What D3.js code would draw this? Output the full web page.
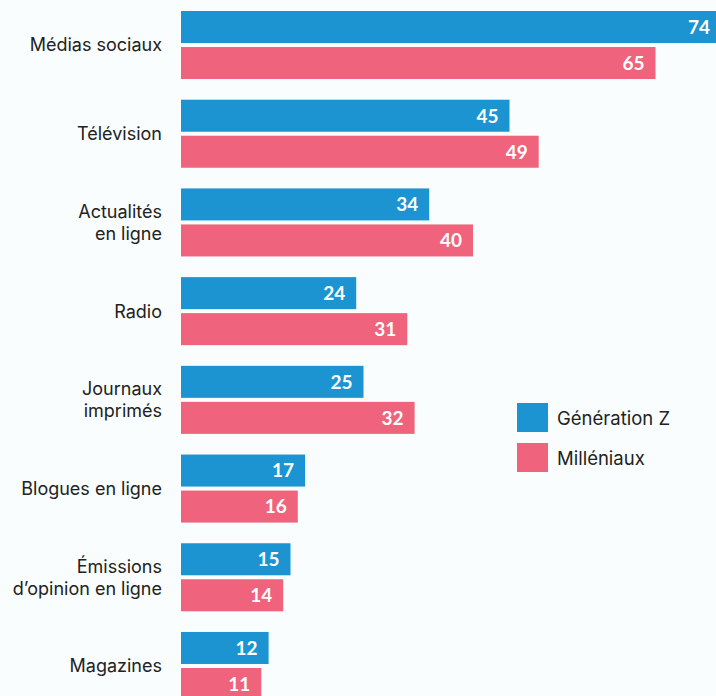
<html>
<head>
  <script src="https://cdn.jsdelivr.net/npm/d3@7/dist/d3.min.js"></script>
</head>
<style>
  body { margin: 0; background: #f9fdfd; overflow: hidden; }
  svg { display: block; font-family: Lato, sans-serif; }
  .lbl { font-family: Inter, sans-serif; }
</style>
<body>
  <svg id="chart"></svg>
  <script type="text/javascript">
    var categories = [
      ['Médias sociaux'],
      ['Télévision'],
      ['Actualités', 'en ligne'],
      ['Radio'],
      ['Journaux', 'imprimés'],
      ['Blogues en ligne'],
      ['Émissions', 'd’opinion en ligne'],
      ['Magazines']
    ];
    var series = ['Génération Z', 'Milléniaux'];
    var genZ = [74, 45, 34, 24, 25, 17, 15, 12];
    var millennials = [65, 49, 40, 31, 32, 16, 14, 11];
    var colors = ['#1c94d2', '#ef647c'];

    var width = 716, height = 696;
    var svg = d3.select('#chart')
      .attr('width', width)
      .attr('height', height);

    var keys = categories.map(function (c) { return c.join(' '); });
    var x = d3.scaleLinear()
      .domain([0, 100])
      .range([181, 911]);
    var y = d3.scaleBand()
      .domain(keys)
      .range([11, 700])
      .paddingInner(0.233)
      .paddingOuter(0);
    var ySub = d3.scaleBand()
      .domain(series)
      .range([0, y.bandwidth()])
      .paddingInner(0.111);

    var rows = keys.map(function (k, i) {
      return { key: k, lines: categories[i], values: [genZ[i], millennials[i]] };
    });

    var group = svg.selectAll('g.group')
      .data(rows)
      .enter()
      .append('g')
      .attr('class', 'group')
      .attr('transform', function (d) { return 'translate(0,' + y(d.key) + ')'; });

    var bar = group.selectAll('g.bar')
      .data(function (d) {
        return d.values.map(function (v, j) { return { s: series[j], v: v, j: j }; });
      })
      .enter()
      .append('g')
      .attr('class', 'bar');

    bar.append('rect')
      .attr('x', x(0))
      .attr('y', function (d) { return ySub(d.s); })
      .attr('width', function (d) { return x(d.v) - x(0); })
      .attr('height', ySub.bandwidth())
      .attr('fill', function (d) { return colors[d.j]; });

    bar.append('text')
      .attr('x', function (d) { return Math.min(x(d.v), width + 5) - 11; })
      .attr('y', function (d) { return ySub(d.s) + ySub.bandwidth() / 2; })
      .attr('dy', '0.36em')
      .attr('text-anchor', 'end')
      .attr('fill', '#fff')
      .attr('font-weight', 'bold')
      .attr('font-size', 19)
      .text(function (d) { return d.v; });

    // category labels
    group.append('text')
      .attr('class', 'lbl')
      .attr('x', 162)
      .attr('y', function (d) { return y.bandwidth() / 2 - (d.lines.length - 1) * 11; })
      .attr('text-anchor', 'end')
      .attr('fill', '#222')
      .attr('font-size', 18)
      .selectAll('tspan')
      .data(function (d) { return d.lines; })
      .enter()
      .append('tspan')
      .attr('x', 162)
      .attr('dy', function (d, i) { return i === 0 ? '0.36em' : 22; })
      .text(function (d) { return d; });

    // legend
    var legend = svg.append('g')
      .attr('transform', 'translate(517, 403)');
    var item = legend.selectAll('g')
      .data(series)
      .enter()
      .append('g')
      .attr('transform', function (d, i) { return 'translate(0,' + i * 40 + ')'; });
    item.append('rect')
      .attr('width', 31)
      .attr('height', 29)
      .attr('fill', function (d, i) { return colors[i]; });
    item.append('text')
      .attr('class', 'lbl')
      .attr('x', 40)
      .attr('y', 15)
      .attr('dy', '0.36em')
      .attr('fill', '#222')
      .attr('font-size', 18.5)
      .text(function (d) { return d; });
  </script>
</body>
</html>
